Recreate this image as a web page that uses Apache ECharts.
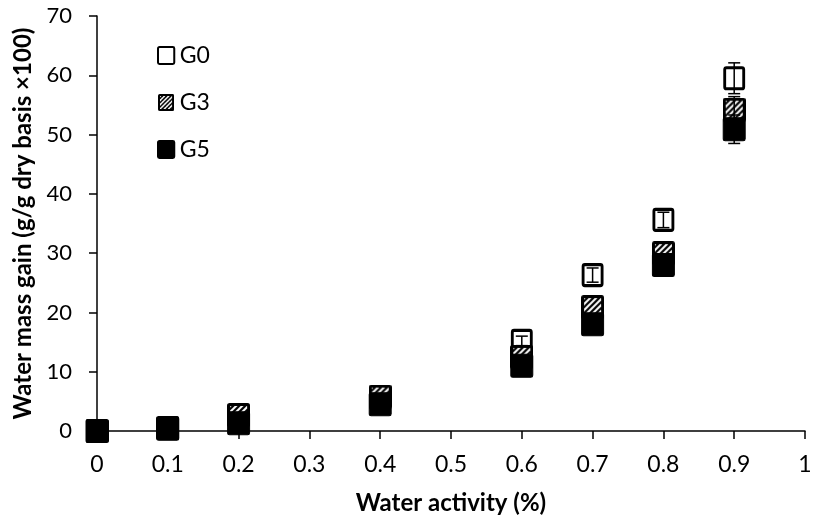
<!DOCTYPE html>
<html><head><meta charset="utf-8">
<script src="https://cdn.jsdelivr.net/npm/echarts@6/dist/echarts.min.js"></script>
<style>html,body{margin:0;padding:0;background:#fff}#c{width:818px;height:527px}</style>
</head><body><div id="c"></div>
<script>
var waterActivity = [0, 0.1, 0.2, 0.4, 0.6, 0.7, 0.8, 0.9];
var g0 = [0, 0.5, 2.6, 5.5, 15.2, 26.3, 35.6, 59.5];
var g3 = [0, 0.5, 2.7, 5.8, 12.5, 20.9, 30.0, 54.2];
var g5 = [0, 0.4, 1.3, 4.5, 11.0, 18.0, 28.0, 50.9];
var g0Err = [0, 0, 0, 0, 0.8, 1.2, 1.3, 2.6];
var g3Err = [0, 0, 0, 0, 0, 0, 0, 2.2];
var g5Err = [0, 0, 0, 0, 0, 0, 0, 2.4];
var xTicks = ['0','0.1','0.2','0.3','0.4','0.5','0.6','0.7','0.8','0.9','1'];

var FONT = 'Lato';

function hatchImage(w, h){
  var c = document.createElement('canvas');
  c.width = w; c.height = h;
  var g = c.getContext('2d');
  var r = 2.5;
  g.fillStyle = '#000';
  g.beginPath();
  g.moveTo(r,0); g.lineTo(w-r,0); g.arcTo(w,0,w,r,r); g.lineTo(w,h-r); g.arcTo(w,h,w-r,h,r);
  g.lineTo(r,h); g.arcTo(0,h,0,h-r,r); g.lineTo(0,r); g.arcTo(0,0,r,0,r); g.closePath(); g.fill();
  g.save();
  g.beginPath(); g.rect(3,3,w-6,h-6); g.clip();
  g.strokeStyle = '#fff'; g.lineWidth = 2;
  for (var k = -h; k < w + h; k += 6) {
    g.beginPath(); g.moveTo(k, h); g.lineTo(k + h, 0); g.stroke();
  }
  g.restore();
  return 'image://' + c.toDataURL();
}
var hatchSym = hatchImage(23, 24);
var boxPath = 'path://M2,0H20A2,2 0 0 1 22,2V21A2,2 0 0 1 20,23H2A2,2 0 0 1 0,21V2A2,2 0 0 1 2,0Z';

function pts(vals){ return waterActivity.map(function(x,i){ return [x, vals[i]]; }); }
function errPts(vals, errs){
  var out = [];
  waterActivity.forEach(function(x,i){ if (errs[i] > 0) out.push([x, vals[i]-errs[i], vals[i]+errs[i]]); });
  return out;
}
function errSeries(name, vals, errs, z){
  return {
    type: 'custom', name: name, data: errPts(vals, errs), silent: true, z: z,
    renderItem: function(params, api){
      var lo = api.coord([api.value(0), api.value(1)]);
      var hi = api.coord([api.value(0), api.value(2)]);
      var w = 6;
      var st = {stroke:'#000', lineWidth:1.5};
      return {type:'group', children:[
        {type:'line', shape:{x1:lo[0],y1:lo[1],x2:hi[0],y2:hi[1]}, style:st},
        {type:'line', shape:{x1:lo[0]-w,y1:lo[1],x2:lo[0]+w,y2:lo[1]}, style:st},
        {type:'line', shape:{x1:hi[0]-w,y1:hi[1],x2:hi[0]+w,y2:hi[1]}, style:st}
      ]};
    },
    encode: {x:0, y:[1,2]}
  };
}

var chart = echarts.init(document.getElementById('c'), null, {renderer:'canvas'});
chart.setOption({
  animation: false,
  grid: {left: 97, right: 13, top: 16, bottom: 96, containLabel: false},
  legend: {
    orient: 'vertical', left: 152, top: 39, itemWidth: 17, itemHeight: 17, itemGap: 24,
    data: ['G0','G3','G5'],
    textStyle: {fontFamily: FONT, fontSize: 23, color: '#000'}
  },
  xAxis: {
    type: 'value', min: 0, max: 1, interval: 0.1,
    name: 'Water activity (%)', nameLocation: 'middle', nameGap: 60,
    nameTextStyle: {fontFamily: FONT, fontSize: 24, fontWeight: 'bold', color: '#000'},
    axisLine: {show: true, lineStyle: {color: '#000', width: 1.5}},
    axisTick: {show: true, inside: false, length: 8, lineStyle: {color: '#000', width: 1.5}},
    axisLabel: {fontFamily: FONT, fontSize: 23, color: '#000', margin: 22,
      formatter: function(v){ return xTicks[Math.round(v*10)]; }},
    splitLine: {show: false}
  },
  yAxis: {
    type: 'value', min: 0, max: 70, interval: 10,
    name: 'Water mass gain (g/g dry basis \u00d7100)', nameLocation: 'middle', nameGap: 57,
    nameTextStyle: {fontFamily: FONT, fontSize: 24, fontWeight: 'bold', color: '#000'},
    axisLine: {show: true, lineStyle: {color: '#000', width: 1.5}},
    axisTick: {show: true, inside: false, length: 8, lineStyle: {color: '#000', width: 1.5}},
    axisLabel: {fontFamily: FONT, fontSize: 22, color: '#000', margin: 25},
    splitLine: {show: false}
  },
  series: [
    {type:'scatter', name:'G0', data: pts(g0), symbol: boxPath, symbolSize:[19,21], clip:false, z: 2,
     itemStyle:{color:'#fff', borderColor:'#000', borderWidth:3, opacity:1}},
    errSeries('G0 err', g0, g0Err, 3),
    {type:'scatter', name:'G3', data: pts(g3), symbol: hatchSym, symbolSize:[23,24], clip:false, z: 4,
     itemStyle:{color:'#000', opacity:1}},
    errSeries('G3 err', g3, g3Err, 5),
    {type:'scatter', name:'G5', data: pts(g5), symbol: boxPath, symbolSize:[22,23], clip:false, z: 6,
     itemStyle:{color:'#000', borderColor:'#000', borderWidth:1, opacity:1}},
    errSeries('G5 err', g5, g5Err, 7)
  ]
});
</script></body></html>
